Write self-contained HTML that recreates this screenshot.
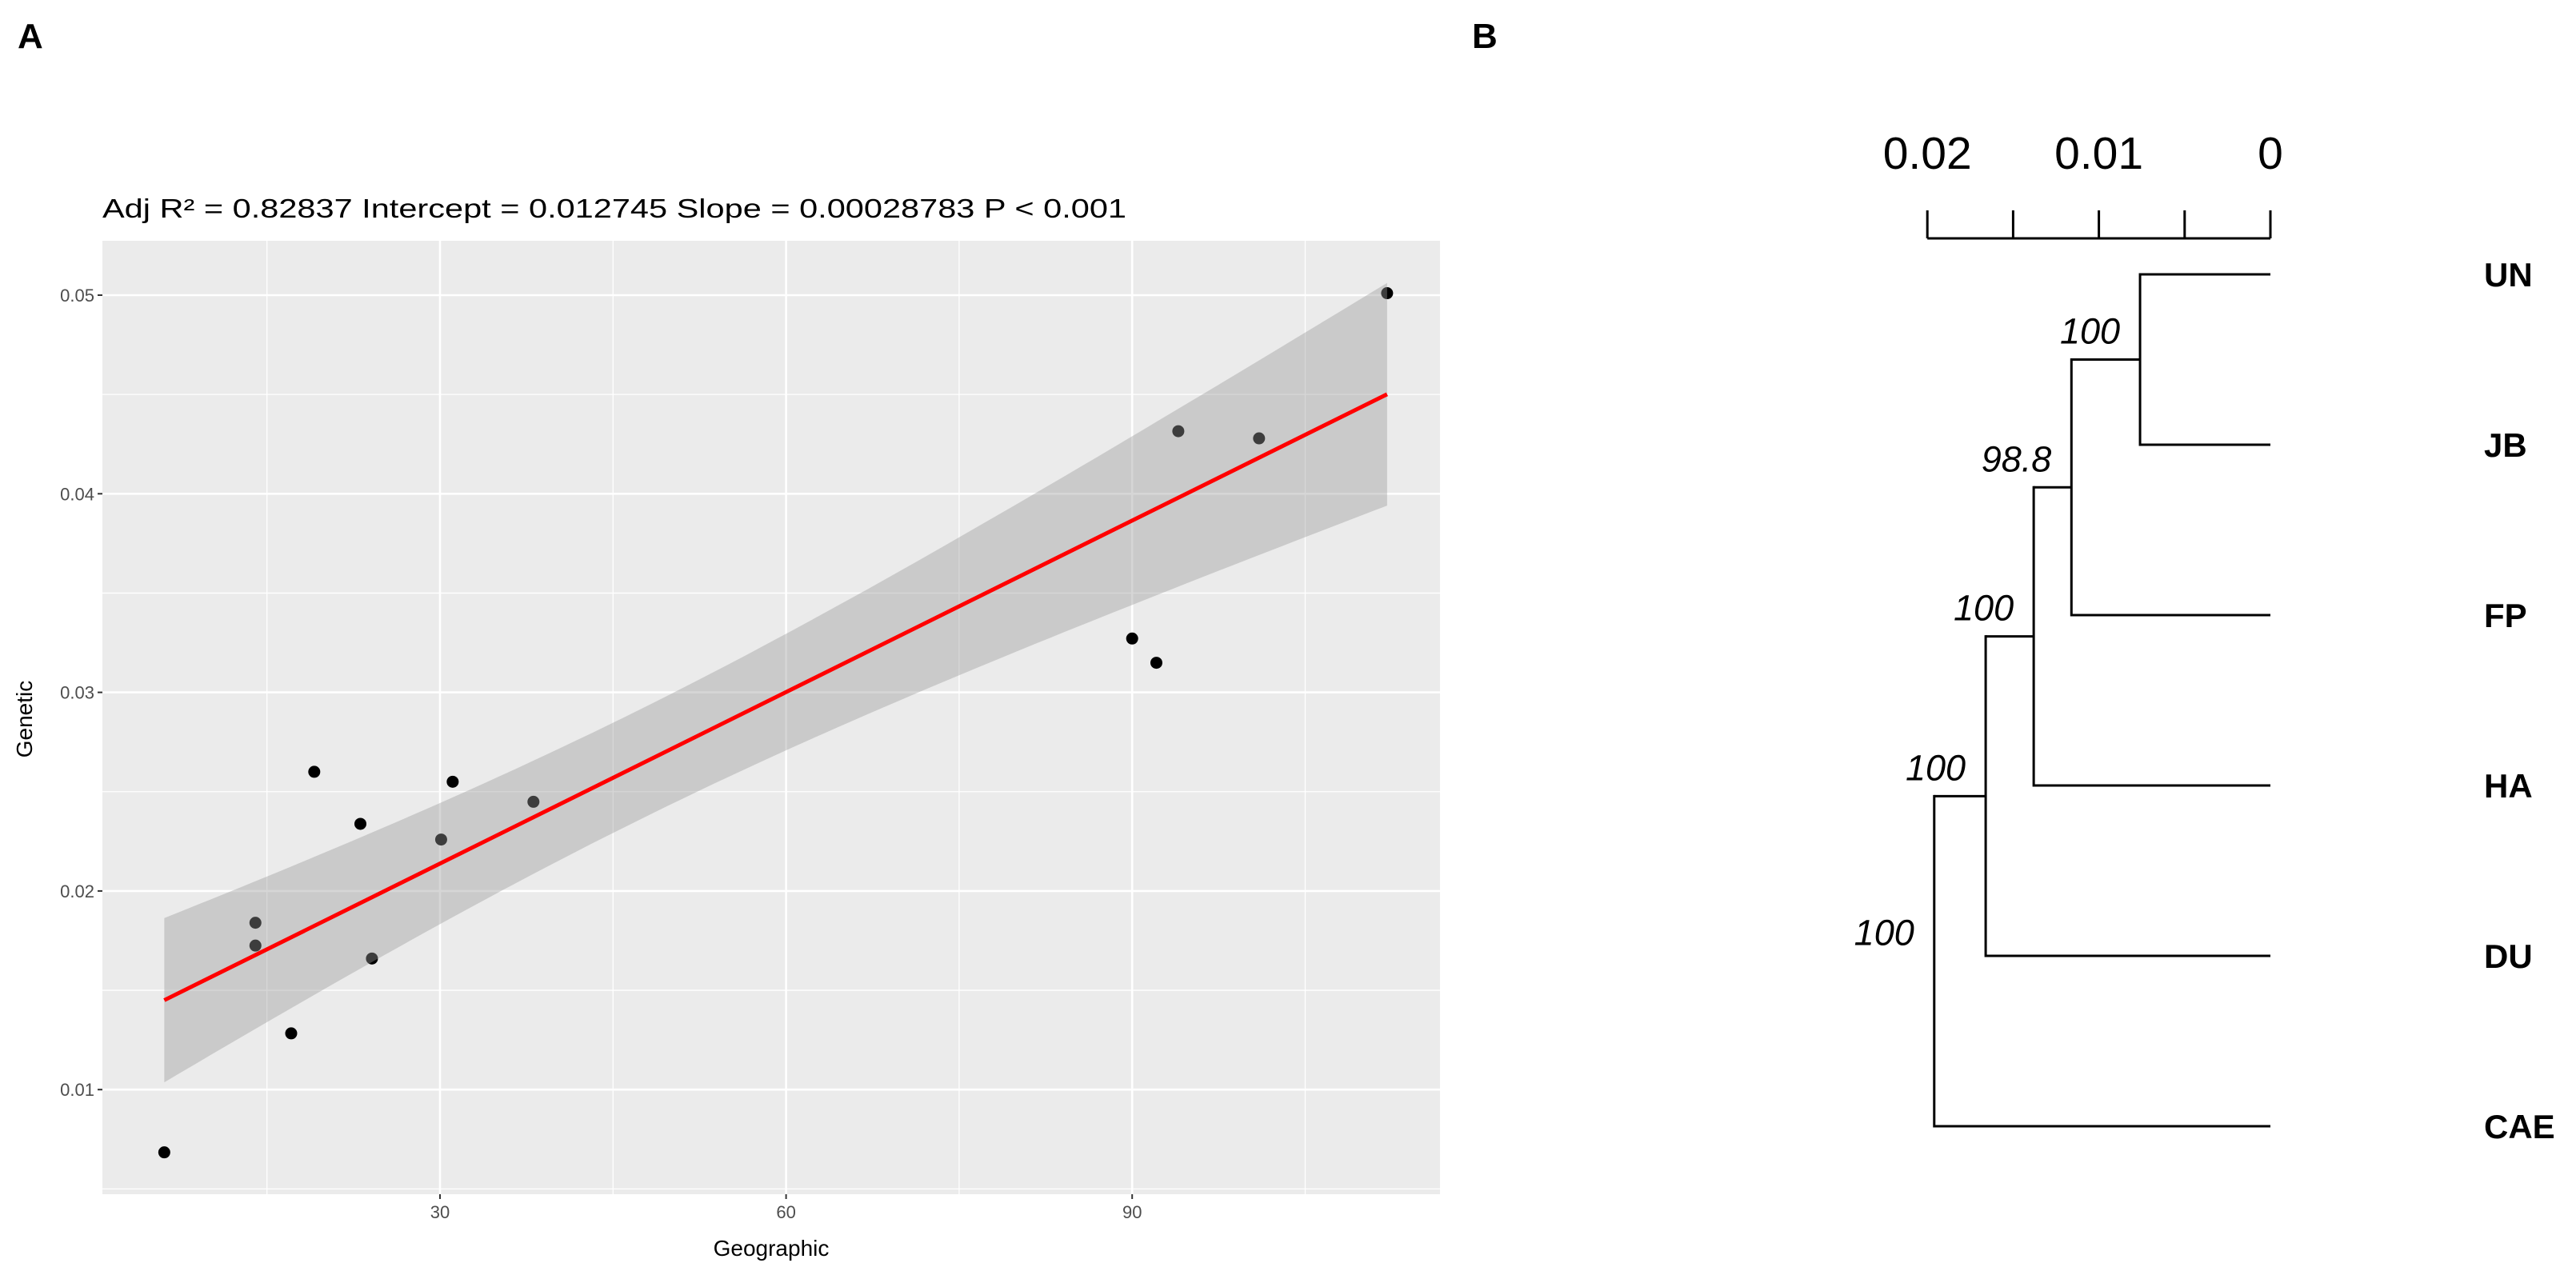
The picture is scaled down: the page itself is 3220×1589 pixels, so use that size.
<!DOCTYPE html>
<html><head><meta charset="utf-8"><style>
html,body{margin:0;padding:0;background:#fff;}
svg{display:block;font-family:"Liberation Sans",sans-serif;}
</style></head><body>
<svg id="fig" width="3220" height="1589" viewBox="0 0 3220 1589" xmlns="http://www.w3.org/2000/svg">
<rect width="3220" height="1589" fill="#fff"/>
<text x="22" y="60" font-size="44" font-weight="bold">A</text>
<text x="1840" y="60" font-size="44" font-weight="bold">B</text>
<g id="pa"></g>
<g id="pb"></g>
</svg>
<script>
const NS="http://www.w3.org/2000/svg";
// ---- Panel A data ----
const geoValues=[6.1,14.0,14.0,17.1,19.1,23.1,24.1,30.1,31.1,38.1,90.0,92.1,94.0,101.0,112.1];
const genValues=[0.00684,0.0184,0.01725,0.01283,0.0260,0.02338,0.0166,0.02259,0.0255,0.02449,0.03271,0.03149,0.04315,0.04279,0.0501];
const xTicks=[30,60,90];
const xMinor=[15,45,75,105];
const yTicks=[0.01,0.02,0.03,0.04,0.05];
const yTickLabels=["0.01","0.02","0.03","0.04","0.05"];
const yMinor=[0.005,0.015,0.025,0.035,0.045];
const fitIntercept=0.012745, fitSlope=0.00028783;
// ---- Panel B data ----
const tipNames=["UN","JB","FP","HA","DU","CAE"];
const nodeHeights=[0.0076,0.0116,0.0138,0.0166,0.0196];
const nodeSupport=["100","98.8","100","100","100"];
const scaleTicks=[0.02,0.015,0.01,0.005,0];
const scaleLabels=[[0.02,"0.02"],[0.01,"0.01"],[0,"0"]];

function mk(tag,attrs,parent,text){const e=document.createElementNS(NS,tag);for(const k in attrs)e.setAttribute(k,attrs[k]);if(text!==undefined)e.textContent=text;parent.appendChild(e);return e;}

// Panel A
const pa=document.getElementById('pa');
const L=128,R=1800,T=301,B=1493;
const X=v=>550+(v-30)*14.42;
const Y=v=>369+(0.05-v)*24830;
let bg=mk('rect',{x:L,y:T,width:R-L,height:B-T,fill:'#EBEBEB'},pa);


xMinor.forEach(v=>{const l=mk('line',{x1:X(v),x2:X(v),y1:T,y2:B,stroke:'#fff','stroke-width':1.3},pa);});
yMinor.forEach(v=>{const l=mk('line',{x1:L,x2:R,y1:Y(v),y2:Y(v),stroke:'#fff','stroke-width':1.3},pa);});
xTicks.forEach(v=>{const l=mk('line',{x1:X(v),x2:X(v),y1:T,y2:B,stroke:'#fff','stroke-width':2.6},pa);
 const t=mk('line',{x1:X(v),x2:X(v),y1:B,y2:B+6,stroke:'#333','stroke-width':2},pa);
 const tx=mk('text',{x:X(v),y:B+30,'font-size':22,fill:'#4d4d4d','text-anchor':'middle'},pa,String(v));});
yTicks.forEach((v,i)=>{const l=mk('line',{x1:L,x2:R,y1:Y(v),y2:Y(v),stroke:'#fff','stroke-width':2.6},pa);
 const t=mk('line',{x1:L-6,x2:L,y1:Y(v),y2:Y(v),stroke:'#333','stroke-width':2},pa);
 const tx=mk('text',{x:L-10,y:Y(v)+8,'font-size':22,fill:'#4d4d4d','text-anchor':'end'},pa,yTickLabels[i]);});
geoValues.forEach((g,i)=>{const c=mk('circle',{cx:X(g),cy:Y(genValues[i]),r:7.5,fill:'#000'},pa);});
// confidence band from data
const n=geoValues.length;const xm=geoValues.reduce((a,b)=>a+b,0)/n;
let Sxx=0,SSE=0;geoValues.forEach((g,i)=>{Sxx+=(g-xm)**2;const r=genValues[i]-(fitIntercept+fitSlope*g);SSE+=r*r;});
const s=Math.sqrt(SSE/(n-2)),tq=2.160;
const xmin=Math.min(...geoValues),xmax=Math.max(...geoValues);
let up=[],lo=[];
for(let k=0;k<=80;k++){const g=xmin+(xmax-xmin)*k/80;const f=fitIntercept+fitSlope*g;const se=s*Math.sqrt(1/n+(g-xm)**2/Sxx)*tq;up.push(X(g).toFixed(1)+','+Y(f+se).toFixed(1));lo.unshift(X(g).toFixed(1)+','+Y(f-se).toFixed(1));}
const band=mk('polygon',{points:up.concat(lo).join(' '),fill:'#999999','fill-opacity':0.4},pa);

const fl=mk('line',{x1:X(xmin),y1:Y(fitIntercept+fitSlope*xmin),x2:X(xmax),y2:Y(fitIntercept+fitSlope*xmax),stroke:'#ff0000','stroke-width':5},pa);

const tt=mk('text',{x:128,y:272,'font-size':33,fill:'#000',textLength:1280,lengthAdjust:'spacingAndGlyphs'},pa,'Adj R² = 0.82837 Intercept = 0.012745 Slope = 0.00028783 P < 0.001');

const xt=mk('text',{x:964,y:1570,'font-size':28,'text-anchor':'middle'},pa,'Geographic');

const yt=mk('text',{x:0,y:0,'font-size':28,'text-anchor':'middle',transform:'translate(40,899) rotate(-90)'},pa,'Genetic');


// Panel B
const pb=document.getElementById('pb');
const HX=h=>2838-h*21440;
const tipY=i=>343+i*213;
const sl=mk('line',{x1:HX(0.02),x2:HX(0),y1:298,y2:298,stroke:'#000','stroke-width':3},pb);

scaleTicks.forEach(v=>{const t=mk('line',{x1:HX(v),x2:HX(v),y1:263,y2:298,stroke:'#000','stroke-width':3},pb);});
scaleLabels.forEach(([v,lab])=>{const t=mk('text',{x:HX(v),y:211,'font-size':57,'text-anchor':'middle'},pb,lab);});
let cladeY=tipY(0),cladeX=HX(0);
for(let k=0;k<nodeHeights.length;k++){
 const nx=HX(nodeHeights[k]);const y1=(k===0?tipY(0):cladeY),y2=tipY(k+1);
 if(k===0){const h=mk('line',{x1:nx,x2:HX(0),y1:tipY(0),y2:tipY(0),stroke:'#000','stroke-width':3},pb);}
 else{const h=mk('line',{x1:nx,x2:cladeX,y1:cladeY,y2:cladeY,stroke:'#000','stroke-width':3},pb);}
 const ht=mk('line',{x1:nx,x2:HX(0),y1:y2,y2:y2,stroke:'#000','stroke-width':3},pb);
 const v=mk('line',{x1:nx,x2:nx,y1:y1-1.5,y2:y2+1.5,stroke:'#000','stroke-width':3},pb);
 const mid=(y1+y2)/2;
 const st=mk('text',{x:nx-25,y:mid-20,'font-size':45,'font-style':'italic','text-anchor':'end'},pb,nodeSupport[k]);
 cladeY=mid;cladeX=nx;
}
tipNames.forEach((nm,i)=>{const t=mk('text',{x:3105,y:tipY(i)+15,'font-size':42,'font-weight':'bold'},pb,nm);});
</script>
</body></html>
